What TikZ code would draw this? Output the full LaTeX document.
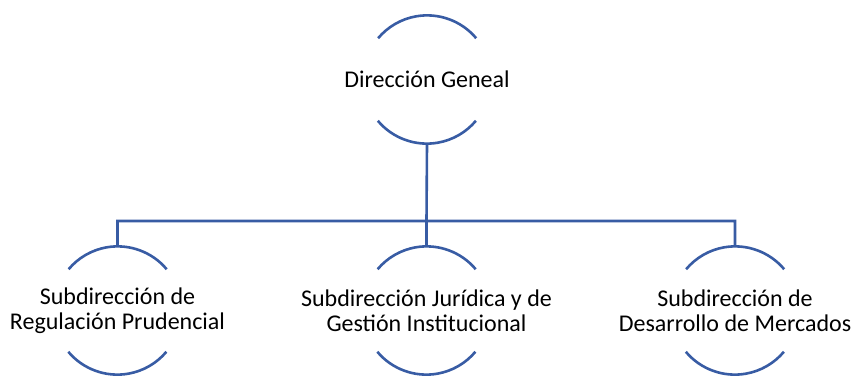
\documentclass[tikz,border=0pt]{standalone}
\usepackage{fontspec}
\setmainfont{Carlito}
\usepackage{tikz}
\definecolor{orgblue}{RGB}{56,92,164}
\tikzstyle{unit}=[circle,minimum size=128pt,inner sep=0pt]
\tikzstyle{every label}=[align=center,font=\fontsize{24}{25}\selectfont]
\tikzstyle{link}=[draw=orgblue,line width=2.6pt]

\begin{document}
\begin{tikzpicture}[x=1pt,y=1pt]
			\useasboundingbox (0,0) rectangle (853,-375);
			\node[unit,label=center:{Dirección Geneal}] (dg) at (427,-79.5) {};
			\node[unit,label=center:{Subdirección de\\Regulación Prudencial}] (srp) at (117.5,-310.5) {};
			\node[unit,label=center:{Subdirección Jurídica y de\\Gestión Institucional}] (sjgi) at (426.5,-310.5) {};
			\node[unit,label=center:{Subdirección de\\Desarrollo de Mercados}] (sdm) at (735,-310.5) {};
			\coordinate (bar) at (426.5,-221);
			% top and bottom arcs of each circle
			\foreach \n in {dg,srp,sjgi,sdm}{
				\draw[link] (\n.40) arc[start angle=40,end angle=140,radius=64pt];
				\draw[link] (\n.220) arc[start angle=220,end angle=320,radius=64pt];
			}
			\path[link]
			(dg.south) -- (bar)
			(bar) -| (srp.north)
			(bar) -| (sdm.north)
			(bar) -- (sjgi.north);
		\end{tikzpicture}
\end{document}
